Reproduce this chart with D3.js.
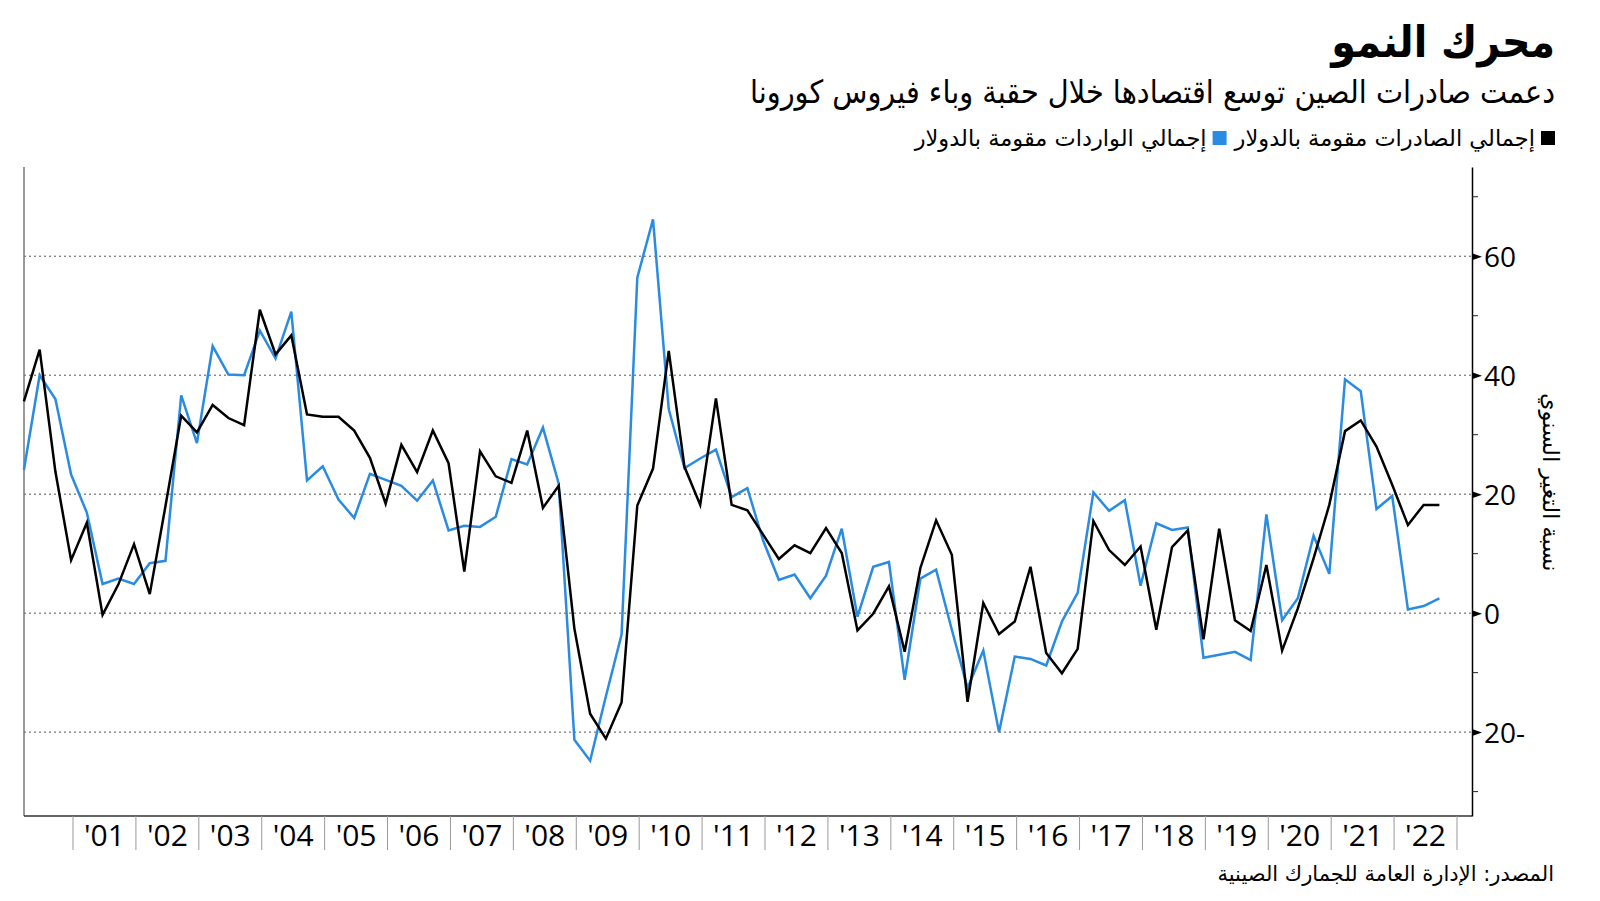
<!DOCTYPE html>
<html lang="ar">
<head>
<meta charset="utf-8">
<script src="https://cdn.jsdelivr.net/npm/d3@7/dist/d3.min.js"></script>
<style>
  html, body { margin: 0; padding: 0; background: #fff; }
  svg { display: block; }
  .ar { font-family: "DejaVu Sans Condensed", "DejaVu Sans", sans-serif; }
  .ar2 { font-family: "DejaVu Sans", sans-serif; }
  .num { font-family: "Open Sans", "Noto Sans", sans-serif; }
</style>
</head>
<body>
<svg id="chart" width="1600" height="901"></svg>
<script>
// ---- Data (year-on-year % change, quarterly, Q1 2000 – Q3 2022) ----
const startYear = 2000;
const exportsUSD = [35.6, 44.3, 23.8, 8.9, 15.2, -0.3, 4.8, 11.6, 3.2, 18.0,
  33.2, 30.4, 35.0, 32.8, 31.6, 51.0, 43.5, 46.7, 33.4, 33.0,
  33.0, 30.7, 26.1, 18.4, 28.3, 23.7, 30.7, 25.2, 7.0, 27.2,
  23.0, 21.9, 30.7, 17.7, 21.4, -2.6, -16.9, -21.1, -15.0, 18.1,
  24.3, 44.1, 24.6, 18.2, 36.1, 18.2, 17.3, 13.2, 9.1, 11.4,
  10.1, 14.3, 10.1, -2.9, -0.1, 4.5, -6.5, 7.6, 15.6, 9.8,
  -14.9, 1.7, -3.5, -1.4, 7.8, -6.7, -10.1, -6.0, 15.5, 10.6,
  8.1, 11.2, -2.8, 11.1, 13.9, -4.4, 14.2, -1.2, -3.0, 8.1,
  -6.3, 0.8, 9.2, 18.2, 30.6, 32.4, 28.0, 21.6, 14.8, 18.2, 18.2];
const importsUSD = [24.1, 40.0, 36.0, 23.3, 16.9, 4.9, 5.8, 4.9, 8.4, 8.8,
  36.6, 28.6, 44.9, 40.1, 40.0, 47.5, 42.8, 50.7, 22.3, 24.7,
  19.1, 16.0, 23.4, 22.4, 21.4, 18.9, 22.3, 13.9, 14.7, 14.5,
  16.2, 25.9, 25.0, 31.2, 21.8, -21.3, -24.8, -14.0, -3.6, 56.4,
  66.2, 34.3, 24.4, 26.0, 27.5, 19.5, 21.0, 12.2, 5.6, 6.5,
  2.5, 6.3, 14.2, -0.6, 7.8, 8.6, -11.2, 5.8, 7.3, -2.8,
  -12.6, -6.3, -20.0, -7.3, -7.7, -8.8, -1.4, 3.4, 20.3, 17.2,
  19.0, 4.6, 15.1, 14.0, 14.4, -7.5, -7.0, -6.5, -7.9, 16.6,
  -1.2, 2.5, 13.0, 6.6, 39.3, 37.3, 17.5, 19.7, 0.6, 1.2, 2.5];
const yearLabels = ["'01","'02","'03","'04","'05","'06","'07","'08","'09","'10","'11",
  "'12","'13","'14","'15","'16","'17","'18","'19","'20","'21","'22"];
const labelYears = d3.range(2001, 2023);
const majorTicks = [-20, 0, 20, 40, 60];
const minorTicks = [-30, -10, 10, 30, 50, 70];

const titleText = "محرك النمو";
const subtitleText = "دعمت صادرات الصين توسع اقتصادها خلال حقبة وباء فيروس كورونا";
const legendItems = [
  { name: "إجمالي الصادرات مقومة بالدولار", color: "#000000" },
  { name: "إجمالي الواردات مقومة بالدولار", color: "#2a8be3" }
];
const yTitleText = "نسبة التغير السنوي";
const sourceText = "المصدر: الإدارة العامة للجمارك الصينية";

// quarter position (decimal year, near quarter end)
const qTime = i => startYear + 0.22 + i * 0.25;

// ---- Layout ----
const svg = d3.select("#chart");
const plotL = 24, plotR = 1472, plotT = 167, plotB = 816;

const x = d3.scaleLinear().domain([2001, 2023]).range([73, 1457]);
const y = d3.scaleLinear().domain([-34.1, 75]).range([plotB, plotT]);

// Titles
svg.append("text").attr("class", "ar")
  .attr("x", 1555).attr("y", 57).attr("text-anchor", "end")
  .attr("font-size", 44).attr("font-weight", "bold").attr("fill", "#000")
  .text(titleText);
svg.append("text").attr("class", "ar")
  .attr("x", 1555).attr("y", 103).attr("text-anchor", "end")
  .attr("font-size", 32).attr("fill", "#000")
  .text(subtitleText);

// Legend (right to left)
let lx = 1555;
legendItems.forEach(item => {
  svg.append("rect").attr("x", lx - 14).attr("y", 131).attr("width", 14).attr("height", 14)
    .attr("fill", item.color);
  lx -= 20;
  const t = svg.append("text").attr("class", "ar2")
    .attr("x", lx).attr("y", 146).attr("text-anchor", "end")
    .attr("font-size", 22.5).attr("fill", "#000").text(item.name);
  lx -= t.node().getComputedTextLength() + 8;
});

// Gridlines
svg.append("g").selectAll("line").data(majorTicks).join("line")
  .attr("x1", plotL).attr("x2", plotR)
  .attr("y1", d => y(d)).attr("y2", d => y(d))
  .attr("stroke", "#555").attr("stroke-width", 1).attr("stroke-dasharray", "2,3");

// Frame: left and bottom
svg.append("line").attr("x1", plotL).attr("x2", plotL).attr("y1", plotT).attr("y2", plotB)
  .attr("stroke", "#777").attr("stroke-width", 1.5);
svg.append("line").attr("x1", plotL).attr("x2", plotR).attr("y1", plotB).attr("y2", plotB)
  .attr("stroke", "#333").attr("stroke-width", 1.5);

// Right axis
const yAxis = d3.axisRight(y).tickValues(majorTicks).tickSize(0).tickPadding(12)
  .tickFormat(d => d < 0 ? Math.abs(d) + "-" : d);
const ga = svg.append("g").attr("transform", `translate(${plotR},0)`).call(yAxis);
ga.select(".domain").attr("stroke", "#000").attr("stroke-width", 1.5);
ga.selectAll(".tick text").attr("font-size", 28).attr("fill", "#000")
  .attr("dy", "0.36em").style("font-family", "'Open Sans', sans-serif");
ga.selectAll(".tick").append("path")
  .attr("d", "M0,-3.5L10,0L0,3.5Z").attr("fill", "#000");
svg.append("g").selectAll("line").data(minorTicks).join("line")
  .attr("x1", plotR).attr("x2", plotR + 6)
  .attr("y1", d => y(d)).attr("y2", d => y(d))
  .attr("stroke", "#222").attr("stroke-width", 1);

// Y title (rotated)
svg.append("text").attr("class", "ar2")
  .attr("transform", `translate(1543,${y(22)}) rotate(90)`)
  .attr("text-anchor", "middle").attr("font-size", 22.5).attr("fill", "#000")
  .text(yTitleText);

// X band: separators + labels
svg.append("g").selectAll("line").data(d3.range(2001, 2024)).join("line")
  .attr("x1", d => x(d)).attr("x2", d => x(d))
  .attr("y1", plotB).attr("y2", 850)
  .attr("stroke", "#999").attr("stroke-width", 1);
svg.append("g").selectAll("text").data(labelYears).join("text")
  .attr("class", "num")
  .attr("x", d => x(d + 0.5)).attr("y", 846)
  .attr("text-anchor", "middle").attr("font-size", 30).attr("fill", "#000")
  .text((d, i) => yearLabels[i]);

// Lines
const line = d3.line().x((d, i) => x(qTime(i))).y(d => y(d));
svg.append("path").datum(importsUSD).attr("d", line)
  .attr("fill", "none").attr("stroke", "#2a8be3").attr("stroke-width", 2.5)
  .attr("stroke-linejoin", "miter");
svg.append("path").datum(exportsUSD).attr("d", line)
  .attr("fill", "none").attr("stroke", "#000").attr("stroke-width", 2.5)
  .attr("stroke-linejoin", "miter");

// Source
svg.append("text").attr("class", "ar2")
  .attr("x", 1554).attr("y", 881).attr("text-anchor", "end")
  .attr("font-size", 21).attr("fill", "#000").text(sourceText);
</script>
</body>
</html>
